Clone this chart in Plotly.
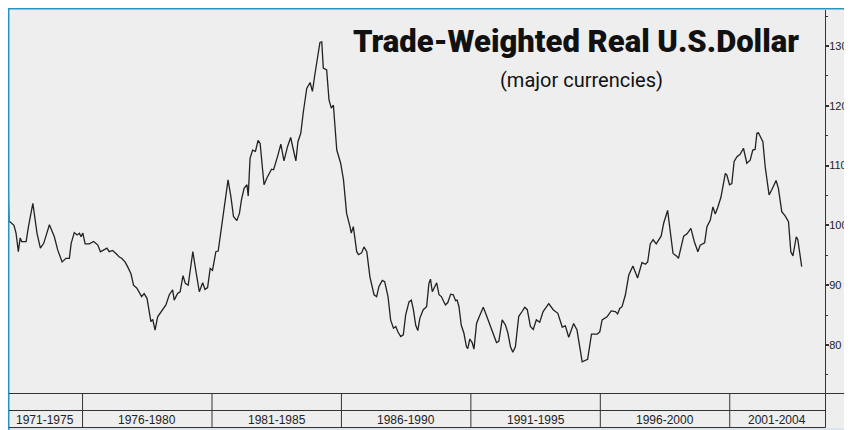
import plotly.graph_objects as go

# ---- data ----
years = [
    1973.13, 1973.16, 1973.20, 1973.35, 1973.43, 1973.52, 1973.59, 1973.65, 1973.82, 1973.91,
    1974.08, 1974.14, 1974.24, 1974.37, 1974.50, 1974.72, 1974.91, 1975.04, 1975.21, 1975.36,
    1975.49, 1975.56, 1975.68, 1975.79, 1975.88, 1975.94, 1976.01, 1976.10, 1976.26, 1976.43,
    1976.59, 1976.69, 1976.84, 1976.94, 1977.03, 1977.16, 1977.29, 1977.42, 1977.51, 1977.64,
    1977.74, 1977.87, 1977.97, 1978.10, 1978.28, 1978.38, 1978.49, 1978.58, 1978.64, 1978.71,
    1978.80, 1978.90, 1979.06, 1979.22, 1979.35, 1979.48, 1979.54, 1979.67, 1979.77, 1979.88,
    1979.97, 1980.08, 1980.16, 1980.26, 1980.38, 1980.51, 1980.64, 1980.73, 1980.83, 1980.93,
    1981.02, 1981.15, 1981.24, 1981.32, 1981.41, 1981.50, 1981.62, 1981.73, 1981.83, 1981.96,
    1982.06, 1982.14, 1982.24, 1982.35, 1982.40, 1982.47, 1982.57, 1982.68, 1982.78, 1982.86,
    1982.95, 1983.01, 1983.14, 1983.30, 1983.38, 1983.46, 1983.55, 1983.66, 1983.78, 1983.92,
    1984.04, 1984.13, 1984.24, 1984.32, 1984.43, 1984.53, 1984.66, 1984.79, 1984.88, 1984.98,
    1985.10, 1985.17, 1985.24, 1985.30, 1985.43, 1985.52, 1985.61, 1985.69, 1985.82, 1985.97,
    1986.08, 1986.20, 1986.33, 1986.38, 1986.46, 1986.59, 1986.66, 1986.78, 1986.87, 1986.98,
    1987.10, 1987.26, 1987.36, 1987.45, 1987.58, 1987.67, 1987.80, 1987.90, 1988.01, 1988.10,
    1988.18, 1988.29, 1988.39, 1988.48, 1988.61, 1988.70, 1988.78, 1988.87, 1988.95, 1989.03,
    1989.16, 1989.29, 1989.38, 1989.44, 1989.51, 1989.60, 1989.68, 1989.77, 1989.86, 1989.96,
    1990.02, 1990.11, 1990.22, 1990.32, 1990.41, 1990.47, 1990.54, 1990.63, 1990.73, 1990.83,
    1990.88, 1990.96, 1991.05, 1991.12, 1991.22, 1991.31, 1991.48, 1991.57, 1991.73, 1991.89,
    1991.99, 1992.08, 1992.21, 1992.34, 1992.43, 1992.53, 1992.62, 1992.72, 1992.85, 1992.98,
    1993.08, 1993.18, 1993.30, 1993.41, 1993.53, 1993.66, 1993.79, 1994.01, 1994.18, 1994.36,
    1994.53, 1994.65, 1994.78, 1994.97, 1995.10, 1995.30, 1995.51, 1995.66, 1995.88, 1995.98,
    1996.07, 1996.26, 1996.42, 1996.58, 1996.67, 1996.75, 1996.84, 1996.97, 1997.10, 1997.26,
    1997.44, 1997.61, 1997.74, 1997.83, 1997.93, 1998.04, 1998.16, 1998.35, 1998.45, 1998.60,
    1998.70, 1998.81, 1998.94, 1999.02, 1999.22, 1999.35, 1999.50, 1999.63, 1999.77, 1999.86,
    2000.03, 2000.12, 2000.25, 2000.35, 2000.44, 2000.53, 2000.66, 2000.74, 2000.83, 2000.89,
    2000.99, 2001.08, 2001.17, 2001.28, 2001.40, 2001.53, 2001.66, 2001.79, 2001.89, 2001.98,
    2002.05, 2002.11, 2002.28, 2002.37, 2002.43, 2002.52, 2002.63, 2002.79, 2002.88, 2003.01,
    2003.14, 2003.27, 2003.36, 2003.44, 2003.57, 2003.63, 2003.78,
]

dollar_index = [
    105.1, 100.6, 100.6, 100.0, 98.7, 95.6, 97.9, 97.3, 97.3, 99.8,
    103.7, 102.1, 98.7, 96.2, 97.0, 100.1, 98.1, 95.9, 93.9, 94.5,
    94.5, 97.0, 98.8, 98.4, 98.7, 98.1, 98.7, 96.9, 96.9, 97.3,
    96.7, 95.6, 95.9, 96.2, 95.6, 95.8, 95.3, 94.7, 94.5, 93.9,
    93.1, 91.9, 90.0, 89.5, 88.1, 88.6, 87.8, 85.6, 83.9, 84.3,
    82.5, 84.7, 85.6, 86.7, 88.4, 89.2, 87.5, 88.6, 88.9, 91.6,
    90.3, 90.0, 92.5, 95.6, 92.3, 88.9, 90.4, 89.3, 89.6, 92.8,
    92.5, 95.6, 95.7, 98.1, 101.5, 104.3, 107.6, 104.8, 101.5, 100.8,
    102.0, 104.3, 106.2, 106.8, 104.9, 111.2, 112.6, 112.4, 114.2, 113.7,
    109.8, 106.8, 108.1, 109.4, 109.3, 110.7, 111.8, 113.6, 110.8, 113.2,
    114.7, 112.9, 110.8, 114.0, 115.4, 119.0, 122.9, 123.9, 122.4, 125.4,
    128.5, 130.6, 130.7, 126.3, 126.0, 121.0, 119.6, 120.1, 112.6, 110.4,
    107.6, 102.0, 99.8, 98.7, 99.8, 95.6, 95.1, 95.4, 96.4, 95.6,
    91.4, 88.4, 88.1, 89.8, 90.8, 90.6, 88.1, 84.2, 82.8, 83.1,
    82.2, 81.4, 81.7, 85.0, 87.2, 87.5, 85.9, 83.3, 82.4, 84.5,
    85.9, 86.4, 90.3, 91.0, 88.9, 89.6, 90.4, 88.4, 88.1, 87.2,
    86.7, 87.1, 88.5, 88.4, 87.4, 87.5, 86.4, 83.3, 82.0, 79.7,
    79.4, 81.0, 80.4, 79.3, 83.6, 84.6, 86.3, 85.3, 83.3, 81.4,
    80.4, 80.6, 84.2, 83.3, 82.0, 79.7, 78.8, 79.7, 84.8, 85.6,
    86.3, 85.9, 83.1, 82.6, 84.2, 83.8, 85.6, 86.9, 85.9, 85.3,
    83.0, 83.2, 81.3, 83.6, 82.5, 77.2, 77.6, 81.8, 81.8, 82.2,
    84.2, 84.7, 85.7, 85.6, 85.2, 86.1, 86.4, 88.4, 91.7, 93.2,
    91.2, 93.8, 93.5, 93.9, 96.9, 97.6, 96.9, 98.2, 100.4, 102.5,
    99.0, 95.3, 94.9, 94.5, 98.2, 98.6, 99.5, 97.3, 95.6, 96.7,
    97.1, 99.8, 100.9, 103.1, 101.9, 102.9, 104.7, 106.8, 108.7, 108.4,
    106.8, 107.0, 110.7, 111.5, 111.9, 112.9, 110.4, 110.9, 112.6, 112.7,
    115.4, 115.5, 114.0, 109.8, 107.9, 105.1, 106.0, 107.5, 106.2, 102.3,
    101.6, 100.6, 95.6, 94.9, 98.1, 97.6, 93.1,
]

period_labels = ["1971-1975", "1976-1980", "1981-1985", "1986-1990",
                 "1991-1995", "1996-2000", "2001-2004"]
period_bounds = [1976, 1981, 1986, 1991, 1996, 2001]
y_ticks = [80, 90, 100, 110, 120, 130]

title_text = "Trade-Weighted Real U.S.Dollar"
subtitle_text = "(major currencies)"

# ---- layout geometry (figure sits 8px into the page because of body margin) ----
OFF = 8
W, H = 851 - OFF, 430 - OFF
L, R, T, B = 0, 817, 2, 385            # plot area in figure pixels
x_range = [1973.12, 2004.68]
y_range = [71.97, 136.02]

def px(p):   # page pixel x -> paper
    return (p - OFF - L) / (R - L)

def py(p):   # page pixel y -> paper
    return (B - (p - OFF)) / (B - T)

BG = "#eeeeee"
BLUE = "#2a93c4"
INK = "#222222"
RULE = "#333333"

fig = go.Figure()
fig.add_trace(go.Scatter(
    x=years, y=dollar_index, mode="lines",
    line=dict(color=INK, width=1.3), hoverinfo="skip", showlegend=False,
))

shapes = []
# blue frame (top and left)
shapes.append(dict(type="line", xref="paper", yref="paper", x0=px(8), x1=px(852), y0=py(8.75), y1=py(8.75),
                   line=dict(color=BLUE, width=1.5)))
shapes.append(dict(type="line", xref="paper", yref="paper", x0=px(8.75), x1=px(8.75), y0=py(8), y1=py(430),
                   line=dict(color=BLUE, width=1.5)))
# bottom band lines
shapes.append(dict(type="line", xref="paper", yref="paper", x0=px(9), x1=px(852), y0=py(393.5), y1=py(393.5),
                   line=dict(color=RULE, width=1)))
for yy in (410.5, 427.5):
    shapes.append(dict(type="line", xref="paper", yref="paper", x0=px(9), x1=px(825.5), y0=py(yy), y1=py(yy),
                       line=dict(color=RULE, width=1)))
shapes.append(dict(type="line", xref="paper", yref="paper", x0=px(825.5), x1=px(825.5), y0=py(393), y1=py(427.5),
                   line=dict(color=RULE, width=1)))
for yb in period_bounds:
    shapes.append(dict(type="line", xref="x", yref="paper", x0=yb, x1=yb, y0=py(393), y1=py(427.5),
                       line=dict(color=RULE, width=1)))
# light strip below band
shapes.append(dict(type="rect", xref="paper", yref="paper", x0=px(9), x1=px(852), y0=py(430), y1=py(428),
                   fillcolor="#dde6ee", line=dict(width=0), layer="below"))

annotations = []
edges = [x_range[0]] + period_bounds + [x_range[1]]
for i, lab in enumerate(period_labels):
    annotations.append(dict(
        x=(edges[i] + edges[i + 1]) / 2, y=py(419.5), xref="x", yref="paper",
        text=lab, showarrow=False, xanchor="center", yanchor="middle",
        font=dict(family="Liberation Sans, Arial, sans-serif", size=12, color=INK),
    ))
annotations.append(dict(
    x=px(576), y=py(42), xref="paper", yref="paper", text=title_text, showarrow=False,
    xanchor="center", yanchor="middle",
    font=dict(family="Roboto, sans-serif", size=31, color="#111111", weight=900),
))
annotations.append(dict(
    x=px(581), y=py(80), xref="paper", yref="paper", text=subtitle_text, showarrow=False,
    xanchor="center", yanchor="middle",
    font=dict(family="Roboto, sans-serif", size=20, color="#111111", weight=400),
))

fig.update_layout(
    width=W, height=H,
    margin=dict(l=L, r=W - R, t=T, b=H - B, pad=0),
    paper_bgcolor=BG, plot_bgcolor=BG,
    shapes=shapes, annotations=annotations,
    xaxis=dict(range=x_range, visible=False, fixedrange=True),
    yaxis=dict(
        range=y_range, side="right", showgrid=False, zeroline=False,
        showline=True, linecolor=RULE, linewidth=1, mirror=False,
        tickmode="array", tickvals=y_ticks, ticktext=[str(v) for v in y_ticks],
        ticks="outside", ticklen=3, tickwidth=2, tickcolor=RULE,
        minor=dict(dtick=5, ticks="outside", ticklen=2, tickcolor=RULE, tickwidth=1),
        tickfont=dict(family="Liberation Sans, Arial, sans-serif", size=11, color=INK),
        ticklabelstandoff=-2, fixedrange=True,
    ),
)

fig.write_html("out.html")
